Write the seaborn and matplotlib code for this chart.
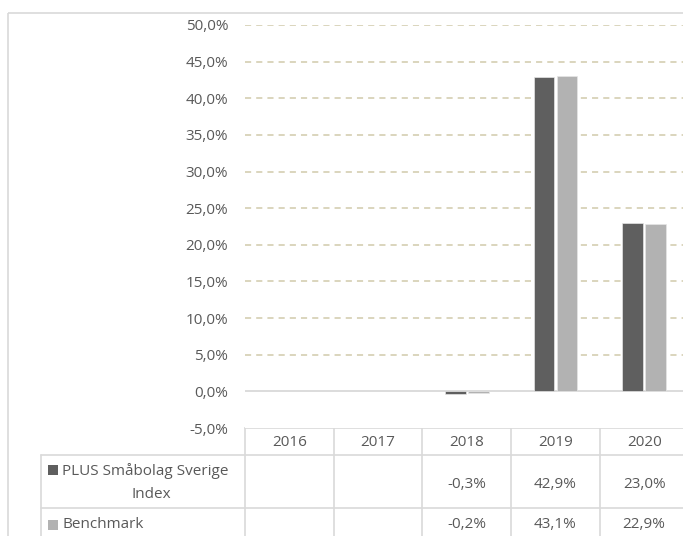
import matplotlib
matplotlib.use('Agg')
import matplotlib.pyplot as plt
from matplotlib.patches import Rectangle
import numpy as np
import pandas as pd
import seaborn as sns

# Data
years = ['2016', '2017', '2018', '2019', '2020']
plus_index = [np.nan, np.nan, -0.3, 42.9, 23.0]
benchmark = [np.nan, np.nan, -0.2, 43.1, 22.9]
series_names = ['PLUS Småbolag Sverige Index', 'Benchmark']
series_colors = ['#5f5f5f', '#b2b2b2']
yticks = [-5, 0, 5, 10, 15, 20, 25, 30, 35, 40, 45, 50]

sns.set_style('white')
plt.rcParams['font.family'] = ['Open Sans', 'DejaVu Sans']

df = pd.DataFrame({
    'year': years * 2,
    'value': plus_index + benchmark,
    'series': [series_names[0]] * len(years) + [series_names[1]] * len(years),
})
df_bar = df.dropna()

W, H = 683, 536
fig = plt.figure(figsize=(W / 100, H / 100), dpi=100)

# plot area (pixel geometry of the reference)
left, right, top, bottom = 245, 688.5, 25, 428
ax = fig.add_axes([left / W, 1 - bottom / H, (right - left) / W, (bottom - top) / H])

sns.barplot(data=df_bar, x='year', y='value', hue='series', order=years,
            hue_order=series_names, palette=series_colors, width=0.52, gap=0.1,
            errorbar=None, legend=False, ax=ax, zorder=3,
            edgecolor='#e6e6e6', linewidth=0.5)

ax.set_xlim(-0.5, len(years) - 0.5)
ax.set_ylim(yticks[0], yticks[-1])
ax.set_yticks(yticks)
ax.set_yticklabels([f'{v:.1f}%'.replace('.', ',') for v in yticks])
ax.tick_params(axis='y', length=0, pad=12, labelsize=11, labelcolor='#595959')
ax.set_xticks([])
ax.set_xlabel('')
ax.set_ylabel('')
for s in ax.spines.values():
    s.set_visible(False)

for v in yticks:
    if v > 0:
        ax.axhline(v, color='#d8d2b8', lw=1.3, linestyle=(0, (3.4, 2.8)), zorder=1)
ax.axhline(0, color='#d9d9d9', lw=1.3, zorder=2)

# overlay in pixel coordinates for the data table and the frame
ov = fig.add_axes([0, 0, 1, 1], zorder=-1)
ov.set_xlim(0, W)
ov.set_ylim(H, 0)
ov.axis('off')
line_c = '#d9d9d9'

# outer chart frame
ov.add_patch(Rectangle((8, 13), W + 20, H + 20, fill=False, ec=line_c, lw=1.2))

# column boundaries derived from the bar axes
def xpix(xd):
    return ax.transData.transform((xd, 0))[0]

col_edges = [xpix(i - 0.5) for i in range(len(years) + 1)]
label_left = 41

ov.plot([col_edges[0], col_edges[-1]], [bottom, bottom], color=line_c, lw=1.2)
ov.plot([label_left, col_edges[-1]], [455, 455], color=line_c, lw=1.2)
ov.plot([label_left, col_edges[-1]], [508, 508], color=line_c, lw=1.2)
ov.plot([label_left, label_left], [455, H + 5], color=line_c, lw=1.2)
for xe in col_edges:
    ov.plot([xe, xe], [bottom, H + 5], color=line_c, lw=1.2)

txt_c = '#595959'
for i, yr in enumerate(years):
    cx = (col_edges[i] + col_edges[i + 1]) / 2
    ov.text(cx, 442, yr, ha='center', va='center', fontsize=11, color=txt_c)
    for vals, ty in ((plus_index, 485), (benchmark, 525)):
        if not np.isnan(vals[i]):
            ov.text(cx, ty, f'{vals[i]:.1f}%'.replace('.', ','), ha='center',
                    va='center', fontsize=11, color=txt_c)

# legend keys inside the table
ov.add_patch(Rectangle((48, 465), 10, 10, color=series_colors[0], lw=0))
ov.text(62, 471, 'PLUS Småbolag Sverige', ha='left', va='center', fontsize=11, color=txt_c)
ov.text(151, 494, 'Index', ha='center', va='center', fontsize=11, color=txt_c)
ov.add_patch(Rectangle((48, 520), 10, 10, color=series_colors[1], lw=0))
ov.text(62, 525, 'Benchmark', ha='left', va='center', fontsize=11, color=txt_c)

fig.savefig('out.png', dpi=100)
